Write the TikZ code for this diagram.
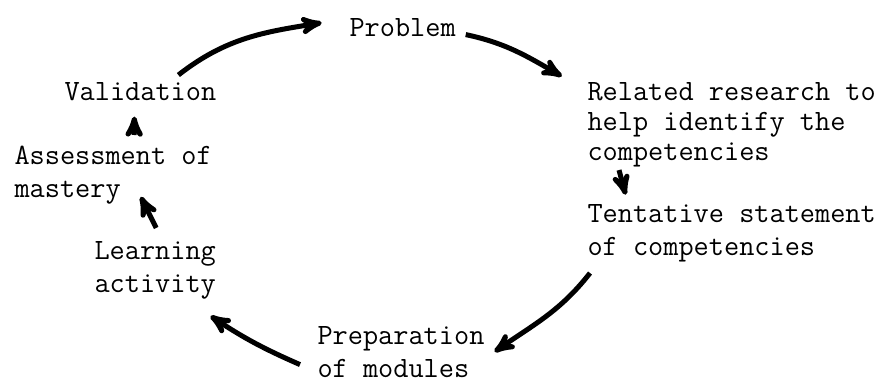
\documentclass[tikz,border=0pt]{standalone}
\usepackage{fontspec}
\usepackage{tikz}
\usetikzlibrary{arrows,calc}

\begin{document}
\begin{tikzpicture}[->,>=stealth',shorten >=1pt,x=0.75pt,y=0.75pt,
	line width=3.75pt,
	stage node/.style={anchor=north west,inner sep=0pt,align=left,
		font=\ttfamily\fontsize{22.1}{24.75}\selectfont}]
	\useasboundingbox (0,0) rectangle (887,-389);
	\node[stage node] (prob) at (347,-16) {Problem};
	\node[stage node,font=\ttfamily\fontsize{22.1}{22.5}\selectfont] (rel) at (585,-80) {Related research to\\help identify the\\competencies};
	\node[stage node] (tent) at (585,-202) {Tentative statement\\of competencies};
	\node[stage node] (prep) at (315,-324) {Preparation\\of modules};
	\node[stage node] (learn) at (92,-239) {Learning\\activity};
	\node[stage node] (assess) at (12,-144) {Assessment of\\mastery};
	\node[stage node] (valid) at (62,-80) {Validation};
	\path
	($(valid.north)+(38,5)$) edge[out=38,in=189] ($(prob.west)+(-24,5)$)
	($(prob.east)+(7.5,-7)$) edge[out=-12,in=150] ($(rel.north west)+(-22,3)$)
	($(rel.south west)+(34,-0.5)$) edge ($(tent.north west)+(41,6)$)
	($(tent.south west)+(5,-8.5)$) edge[out=232,in=35] ($(prep.east)+(6.5,-0.5)$)
	($(prep.west)+(-15,-12.5)$) edge[bend left=5] ($(learn.south east)+(-9,-13.5)$)
	($(learn.north)+(1,11)$) edge ($(assess.south)+(27,11.5)$)
	($(assess.north)+(21,9)$) edge ($(valid.south)+(-6,-12)$);
\end{tikzpicture}
\end{document}
